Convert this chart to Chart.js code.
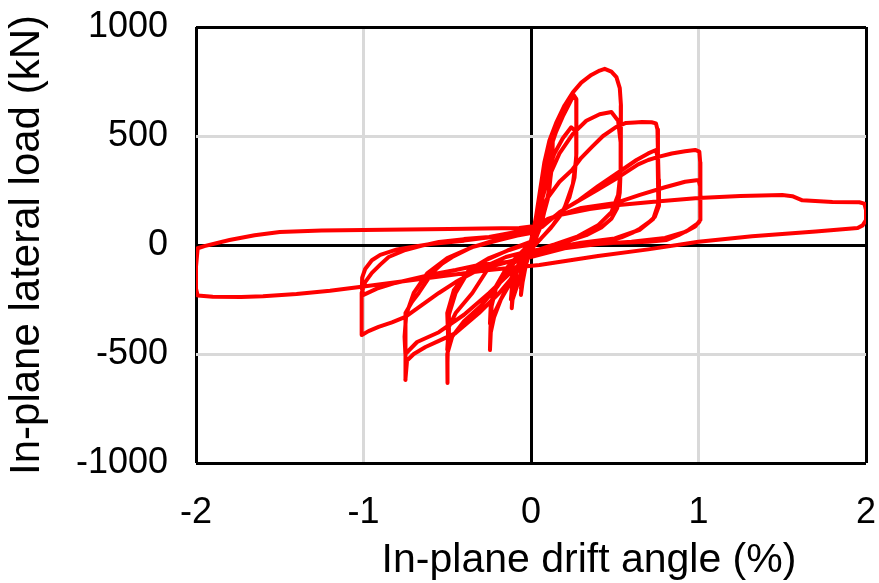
<!DOCTYPE html>
<html>
<head>
<meta charset="utf-8">
<title>In-plane hysteresis</title>
<script src="https://cdn.jsdelivr.net/npm/chart.js@4/dist/chart.umd.min.js"></script>
<style>
  html, body { margin: 0; padding: 0; background: #fff; }
  #wrap { width: 879px; height: 583px; }
</style>
</head>
<body>
<div id="wrap"><canvas id="loadChart" width="879" height="583"></canvas></div>
<script>
// axis ticks
const driftTicks = [-2, -1, 0, 1, 2];
const loadTicks = [-1000, -500, 0, 500, 1000];

// drift angle (%) / lateral load (kN), one array per amplitude
const loop006 = [
  [0, 0], [0.02, 90], [0.04, 170], [0.06, 240], [0.065, 200], [0.05, 110], [0.02, 30], [0, -15],
  [-0.03, -90], [-0.05, -170], [-0.06, -229], [-0.055, -150], [-0.03, -60], [0, 10],
  [0.03, 110], [0.06, 220], [0.055, 140], [0.02, 30], [-0.02, -50], [-0.05, -160], [-0.06, -200],
  [-0.04, -90], [0, 0]
];
const loop0125 = [
  [0.03, 120], [0.06, 260], [0.09, 370], [0.12, 460], [0.13, 480], [0.128, 400], [0.11, 260],
  [0.07, 120], [0.03, 30], [0, -20], [-0.04, -90], [-0.08, -180], [-0.11, -250], [-0.115, -290],
  [-0.11, -200], [-0.08, -110], [-0.04, -40], [0, 10],
  [0.04, 150], [0.08, 300], [0.12, 410], [0.125, 360], [0.1, 210], [0.05, 70], [0, -20],
  [-0.05, -110], [-0.09, -190], [-0.12, -250], [-0.11, -160], [-0.07, -80], [-0.03, -20], [0, 20]
];
const loop025 = [
  [0.02, 70], [0.05, 200], [0.08, 330], [0.11, 430], [0.15, 520], [0.19, 590], [0.23, 650],
  [0.255, 688], [0.27, 670], [0.272, 560], [0.27, 420], [0.26, 310], [0.23, 220], [0.18, 140],
  [0.12, 80], [0.06, 30], [0.02, 0], [-0.03, -40], [-0.08, -100], [-0.13, -170], [-0.18, -250],
  [-0.22, -330], [-0.24, -400], [-0.245, -482], [-0.242, -380], [-0.235, -280], [-0.21, -200],
  [-0.16, -130], [-0.1, -70], [-0.04, -20], [0, 20],
  [0.04, 150], [0.09, 310], [0.14, 420], [0.19, 490], [0.24, 540], [0.27, 520], [0.27, 400],
  [0.25, 280], [0.2, 170], [0.13, 90], [0.06, 30], [0, -20], [-0.06, -90], [-0.12, -170],
  [-0.18, -250], [-0.23, -330], [-0.245, -360], [-0.24, -270], [-0.21, -190], [-0.15, -110],
  [-0.08, -50], [0, 10]
];
const loop050 = [
  [0.02, 80], [0.05, 230], [0.08, 380], [0.11, 480], [0.15, 560], [0.2, 640], [0.25, 700],
  [0.3, 745], [0.36, 780], [0.41, 800], [0.44, 808], [0.48, 795], [0.51, 770], [0.53, 720],
  [0.537, 640], [0.537, 500], [0.535, 360], [0.53, 240], [0.515, 170], [0.48, 120], [0.42, 80],
  [0.33, 45], [0.23, 20], [0.13, 0], [0.05, -20], [-0.03, -50], [-0.1, -80], [-0.2, -190],
  [-0.3, -280], [-0.4, -350], [-0.47, -420], [-0.5, -500], [-0.5, -633], [-0.497, -540],
  [-0.495, -420], [-0.5, -312], [-0.46, -206], [-0.37, -115], [-0.25, -60], [-0.13, -23], [0, 10],
  [0.04, 140], [0.1, 300], [0.17, 420], [0.25, 510], [0.33, 570], [0.41, 600], [0.48, 610],
  [0.52, 570], [0.535, 470], [0.535, 340], [0.52, 230], [0.48, 150], [0.4, 90], [0.28, 40],
  [0.15, 5], [0.05, -25], [-0.05, -60], [-0.15, -80], [-0.25, -101], [-0.35, -220], [-0.45, -312],
  [-0.49, -376], [-0.5, -480], [-0.495, -420], [-0.49, -320], [-0.45, -220], [-0.38, -130],
  [-0.27, -70], [-0.14, -25], [0, 15]
];
const loop075 = [
  [0.04, 100], [0.09, 206], [0.17, 290], [0.245, 344], [0.3, 400], [0.364, 450], [0.43, 500],
  [0.507, 541], [0.567, 560], [0.62, 562], [0.663, 564], [0.72, 563], [0.746, 558], [0.755, 530],
  [0.758, 420], [0.762, 300], [0.764, 180], [0.74, 130], [0.704, 105], [0.65, 75], [0.603, 55],
  [0.54, 35], [0.484, 23], [0.4, 14], [0.328, 9], [0.25, 4], [0.167, 0], [0.07, -15], [0, -40],
  [-0.08, -120], [-0.19, -220], [-0.31, -312], [-0.45, -404], [-0.55, -440], [-0.63, -468],
  [-0.7, -500], [-0.74, -530], [-0.75, -619], [-0.748, -500], [-0.75, -400], [-0.75, -312],
  [-0.71, -260], [-0.67, -220], [-0.59, -128], [-0.53, -85], [-0.47, -55], [-0.35, -9],
  [-0.19, 23], [-0.07, 46], [0, 60],
  [0.066, 83], [0.17, 150], [0.287, 206], [0.4, 270], [0.525, 335], [0.63, 390], [0.7, 420],
  [0.746, 436], [0.756, 400], [0.758, 300], [0.76, 190], [0.73, 120], [0.65, 70], [0.5, 30],
  [0.3, 10], [0.12, -15], [0, -40], [-0.1, -110], [-0.25, -220], [-0.4, -320], [-0.55, -400],
  [-0.68, -445], [-0.75, -500], [-0.755, -420], [-0.745, -320], [-0.7, -220], [-0.62, -130],
  [-0.5, -60], [-0.35, -10], [-0.18, 30], [0, 55]
];
const loop100 = [
  [0.1, 110], [0.2, 165], [0.3, 210], [0.4, 255], [0.5, 300], [0.58, 340], [0.64, 370],
  [0.7, 390], [0.76, 404], [0.84, 420], [0.92, 430], [0.98, 436], [1.005, 428], [1.01, 380],
  [1.012, 280], [1.012, 180], [1.01, 115], [1.0, 101], [0.94, 69], [0.88, 45], [0.81, 23],
  [0.7, 15], [0.58, 11], [0.45, 9], [0.3, 5], [0.17, 0], [0.05, -20], [-0.05, -35],
  [-0.15, -55], [-0.25, -90], [-0.35, -128], [-0.45, -170], [-0.55, -220], [-0.65, -275],
  [-0.75, -330], [-0.83, -355], [-0.91, -376], [-0.97, -395], [-1.01, -413], [-1.012, -330],
  [-1.01, -220], [-0.99, -170], [-0.95, -128], [-0.9, -90], [-0.85, -55], [-0.75, -23],
  [-0.65, -3], [-0.55, 14], [-0.4, 27], [-0.25, 37], [-0.09, 60], [0, 70],
  [0.1, 120], [0.3, 170], [0.507, 193], [0.65, 230], [0.8, 265], [0.92, 290], [1.0, 298],
  [1.01, 270], [1.012, 180], [1.01, 115], [0.98, 85], [0.92, 60], [0.8, 32], [0.6, 15],
  [0.4, 5], [0.2, -15], [0.05, -45], [-0.1, -75], [-0.31, -92], [-0.45, -115], [-0.61, -138],
  [-0.81, -174], [-0.92, -200], [-1.0, -229], [-1.01, -200], [-1.008, -150], [-0.99, -110],
  [-0.95, -70], [-0.9, -45], [-0.8, -20], [-0.6, 5], [-0.4, 20], [-0.2, 40], [0, 65]
];
const loop200 = [
  [0.08, 110], [0.17, 138], [0.35, 165], [0.525, 183], [0.75, 200], [1.0, 216], [1.25, 225],
  [1.5, 229], [1.56, 224], [1.62, 205], [1.8, 197], [1.96, 196], [1.99, 190], [2.0, 160],
  [2.0, 115], [1.98, 90], [1.95, 78], [1.7, 62], [1.32, 40], [1.0, 15], [0.7, -20], [0.4, -50],
  [0.05, -92], [-0.25, -115], [-0.5, -140], [-0.75, -165], [-1.0, -190], [-1.2, -210],
  [-1.4, -225], [-1.6, -235], [-1.73, -238], [-1.9, -237], [-1.99, -232], [-2.0, -200],
  [-2.0, -100], [-1.99, -15], [-1.95, -5], [-1.8, 23], [-1.65, 45], [-1.5, 60], [-1.25, 66],
  [-1.0, 69], [-0.49, 73], [-0.07, 78], [0, 85]
];

const history = [].concat(loop006, loop0125, loop025, loop050, loop075, loop100, loop200)
  .map(p => ({ x: p[0], y: p[1] }));

const FONT = "'Liberation Sans', Arial, sans-serif";

// edge and zero lines in black, the rest light grey
function gridColor(ctx) {
  const v = ctx.tick.value;
  const s = ctx.scale;
  if (v === 0 || v === s.min || v === s.max) return "#000000";
  return "#d9d9d9";
}

// x axis title sits a bit right of the plot centre
const xTitle = {
  id: "xTitle",
  afterDraw(chart) {
    const c = chart.ctx;
    c.save();
    c.font = "41px " + FONT;
    c.fillStyle = "#000";
    c.textAlign = "center";
    c.textBaseline = "alphabetic";
    c.fillText("In-plane drift angle (%)", 589, 572);
    c.restore();
  }
};

new Chart(document.getElementById("loadChart"), {
  type: "scatter",
  data: {
    datasets: [{
      data: history,
      showLine: true,
      borderColor: "#ff0000",
      borderWidth: 4,
      borderJoinStyle: "round",
      borderCapStyle: "round",
      pointRadius: 0,
      tension: 0
    }]
  },
  options: {
    responsive: false,
    animation: false,
    devicePixelRatio: 1,
    layout: { padding: { top: 27, right: 13, left: 0, bottom: 0 } },
    plugins: { legend: { display: false }, tooltip: { enabled: false } },
    scales: {
      x: {
        type: "linear",
        min: driftTicks[0],
        max: driftTicks[driftTicks.length - 1],
        afterFit: s => { s.height = 120; s.paddingLeft = 0; s.paddingRight = 0; },
        afterBuildTicks: s => { s.ticks = driftTicks.map(v => ({ value: v })); },
        grid: { color: gridColor, lineWidth: 3, drawTicks: false },
        border: { display: false },
        ticks: {
          padding: 28,
          color: "#000",
          font: { family: FONT, size: 36 },
          callback: v => String(v)
        }
      },
      y: {
        type: "linear",
        min: loadTicks[0],
        max: loadTicks[loadTicks.length - 1],
        afterFit: s => { s.width = 196; s.paddingTop = 0; s.paddingBottom = 0; },
        afterBuildTicks: s => { s.ticks = loadTicks.map(v => ({ value: v })); },
        grid: { color: gridColor, lineWidth: 3, drawTicks: false },
        border: { display: false },
        ticks: {
          padding: 28,
          color: "#000",
          font: { family: FONT, size: 36 },
          callback: v => String(v)
        },
        title: {
          display: true,
          text: "In-plane lateral load (kN)",
          color: "#000",
          font: { family: FONT, size: 42 },
          padding: { top: 2, bottom: 0 }
        }
      }
    }
  },
  plugins: [xTitle]
});
</script>
</body>
</html>
